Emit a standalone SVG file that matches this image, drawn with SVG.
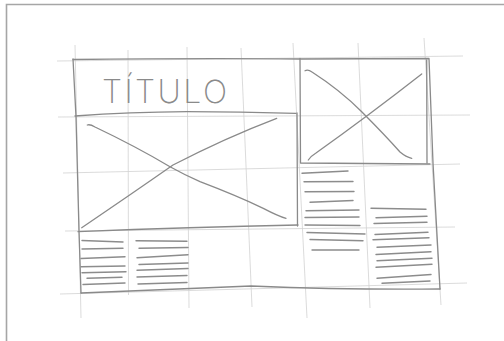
<svg xmlns="http://www.w3.org/2000/svg" width="504" height="341" viewBox="0 0 504 341">
<style>
.grid{fill:none;stroke:#d2d2d2;stroke-width:0.8}
.ink{fill:none;stroke:#8a8a8a;stroke-width:1.3;stroke-linecap:round;stroke-linejoin:round}
.txt{fill:none;stroke:#8c8c8c;stroke-width:1.4;stroke-linecap:round}
.title{font-family:"Inter","Open Sans","Liberation Sans",sans-serif;font-weight:200;font-size:32px;fill:#8a8a8a}
</style>
<rect width="504" height="341" fill="#ffffff"/>
<path d="M6.5 345 L6.5 4.5 L510 4.5" fill="none" stroke="#a6a6a6" stroke-width="1.6"/>
<g id="grid" class="grid">
<path d="M75 45 L81 318"/>
<path d="M128 50 L128.5 295"/>
<path d="M187 47 L189 308"/>
<path d="M241 48 L252 307"/>
<path d="M293 43 L307 318"/>
<path d="M358 43 L370 308"/>
<path d="M424 38 L441 305"/>
<path d="M57 61 L463 56"/>
<path d="M58 117 L470 115"/>
<path d="M63 173 L460 164"/>
<path d="M65 231 L455 227"/>
<path d="M60 294 L467 283"/>
</g>
<g id="frame" class="ink">
<path d="M73 59.5 Q200 58 300 59 L429 58.5 Q431 110 433 163 Q437 230 440 289"/>
<path d="M73 59 L76 117 L79 231 L81 293"/>
<path d="M81 293 Q170 289 251 286 Q350 290 440 289"/>
</g>
<g id="title">
<path class="ink" d="M75 116 Q130 112 187 111.7 Q240 112 296 113.3"/>
<text class="title" x="102" y="103" textLength="125" lengthAdjust="spacing">TÍTULO</text>
</g>
<g id="image-left" class="ink">
<path d="M297 113 L297.5 226"/>
<path d="M78 231.7 Q190 227 298 225"/>
<path d="M87.3 125 Q90 124 95 127 Q135 146 170 166.7 Q185 175 200 181.7 Q235 195 263.3 208.3 Q278 216 286 218.3"/>
<path d="M81.7 227.7 Q130 195 173 165 Q225 138 276.7 118.3"/>
</g>
<g id="image-right" class="ink">
<path d="M300 58.3 L300.5 163 L430 164"/>
<path d="M426.7 60 L427 163"/>
<path d="M305 70.7 Q308 69 312 72 Q340 90 361.7 111.7 Q385 135 400 152 Q406 157 411.7 158.3"/>
<path d="M308.3 160 Q311 156 316 153 Q368 116 421.7 74"/>
</g>
<g id="text-left-1" class="txt">
<path d="M82 240.5 L123 242"/>
<path d="M82 249 L123 248.3"/>
<path d="M81 258.5 L125 256.7"/>
<path d="M81 266.8 L125 266"/>
<path d="M82 272.7 L126 271.7"/>
<path d="M87 278.3 L122 277.3"/>
<path d="M83 284.5 L125 283"/>
</g>
<g id="text-left-2" class="txt">
<path d="M136 240.7 L187 241.2"/>
<path d="M139 248.3 L188 247.5"/>
<path d="M137 257.8 L188 254.8"/>
<path d="M139 264.5 L188 263"/>
<path d="M137 270.2 L188 268.5"/>
<path d="M137 277 L187 275.5"/>
<path d="M138 284 L187 282.5"/>
</g>
<g id="text-right-1" class="txt">
<path d="M302 173.3 L348 171"/>
<path d="M304 181.7 L353 181.5"/>
<path d="M305 191.7 L354 191.5"/>
<path d="M310 202.3 L353 200.5"/>
<path d="M306 210.7 L359 210"/>
<path d="M305 217.5 L359 217"/>
<path d="M305 225 L360 225.5"/>
<path d="M307 232.5 L365 234"/>
<path d="M310 239.5 L363 240.7"/>
<path d="M312 250 L359 250"/>
</g>
<g id="text-right-2" class="txt">
<path d="M371 208.3 L426 209.3"/>
<path d="M376 217.8 L427 216.3"/>
<path d="M374 223.5 L427 222.3"/>
<path d="M375 234.5 L428 232.3"/>
<path d="M373 239.7 L429 237.7"/>
<path d="M377 247.2 L431 245"/>
<path d="M376 254.5 L431 251.8"/>
<path d="M377 260.7 L432 258.3"/>
<path d="M376 267.3 L432 264.3"/>
<path d="M377 278.2 L431 274.5"/>
<path d="M382 283.3 L430 281"/>
</g>
</svg>
